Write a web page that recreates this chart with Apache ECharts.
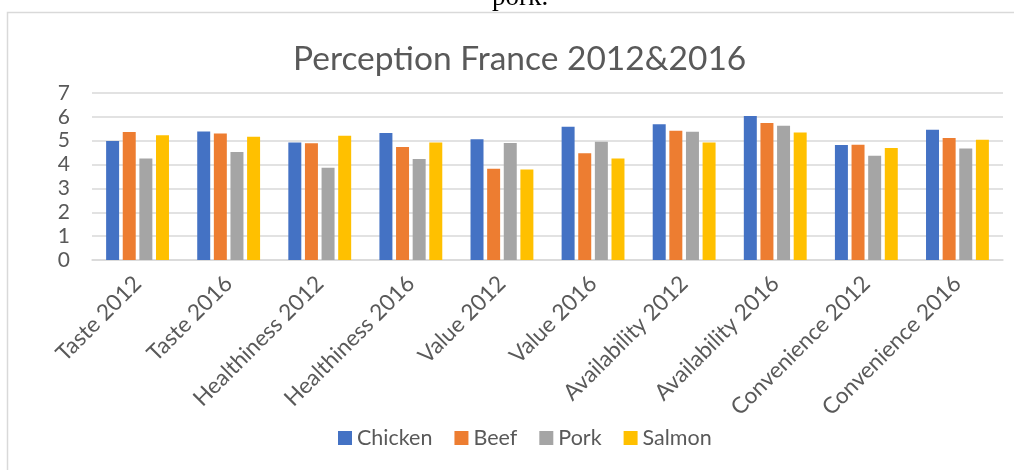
<!DOCTYPE html>
<html><head><meta charset="utf-8">
<script src="https://cdn.jsdelivr.net/npm/echarts@6/dist/echarts.min.js"></script>
<style>html,body{margin:0;padding:0;background:#fff;}#c{width:1014px;height:470px;}</style>
</head><body><div id="c"></div>
<script>
var categories = ['Taste 2012','Taste 2016','Healthiness 2012','Healthiness 2016','Value 2012','Value 2016','Availability 2012','Availability 2016','Convenience 2012','Convenience 2016'];
var chicken = [4.99,5.39,4.93,5.32,5.06,5.59,5.69,6.04,4.82,5.46];
var beef    = [5.37,5.30,4.89,4.74,3.83,4.47,5.42,5.74,4.83,5.11];
var pork    = [4.25,4.53,3.87,4.23,4.90,4.96,5.38,5.63,4.37,4.67];
var salmon  = [5.23,5.17,5.21,4.92,3.79,4.25,4.92,5.34,4.69,5.04];
var seriesNames = ['Chicken','Beef','Pork','Salmon'];
var colors = ['#4472C4','#ED7D31','#A5A5A5','#FFC000'];
var yTicks = [0,1,2,3,4,5,6,7];

var font = 'Lato, "Open Sans", sans-serif';
var chart = echarts.init(document.getElementById('c'));
var data = [chicken, beef, pork, salmon];
chart.setOption({
  animation: false,
  color: colors,
  title: {
    text: 'Perception France 2012&2016',
    left: 288, top: 37,
    textStyle: {fontFamily: font, fontSize: 33.5, fontWeight: 'normal', color: '#595959'}
  },
  graphic: [
    {type: 'rect', shape: {x: 7.5, y: 12.5, width: 1020, height: 470},
     style: {fill: 'none', stroke: '#d9d9d9', lineWidth: 1.5}, silent: true, z: -1},
    {type: 'text', x: 492, y: 11,
     style: {text: 'pork.', font: '27px "Liberation Serif", "DejaVu Serif", serif', fill: '#000', verticalAlign: 'bottom', align: 'left'}}
  ],
  legend: {
    data: seriesNames, bottom: 16, left: 333,
    itemWidth: 14, itemHeight: 14, itemGap: 22,
    icon: 'rect',
    textStyle: {fontFamily: font, fontSize: 21.5, color: '#595959', padding: [0,0,0,0]}
  },
  grid: {left: 92, right: 11, top: 93, bottom: 210, containLabel: false},
  xAxis: {
    type: 'category', data: categories,
    axisLine: {lineStyle: {color: '#d9d9d9', width: 1.5}},
    axisTick: {show: false},
    axisLabel: {rotate: 45, interval: 0, margin: 20, fontFamily: font, fontSize: 22.5, color: '#595959'}
  },
  yAxis: {
    type: 'value', min: 0, max: 7, interval: 1,
    axisLine: {show: false}, axisTick: {show: false},
    splitLine: {lineStyle: {color: '#d9d9d9', width: 1.5}},
    axisLabel: {margin: 22, fontFamily: font, fontSize: 21, color: '#595959',
      formatter: function(v){ return yTicks.indexOf(v) >= 0 ? String(v) : ''; }}
  },
  series: seriesNames.map(function(n, i){
    return {name: n, type: 'bar', data: data[i], barGap: '28%', barCategoryGap: '31%',
      itemStyle: {color: colors[i]}};
  })
});
</script></body></html>
